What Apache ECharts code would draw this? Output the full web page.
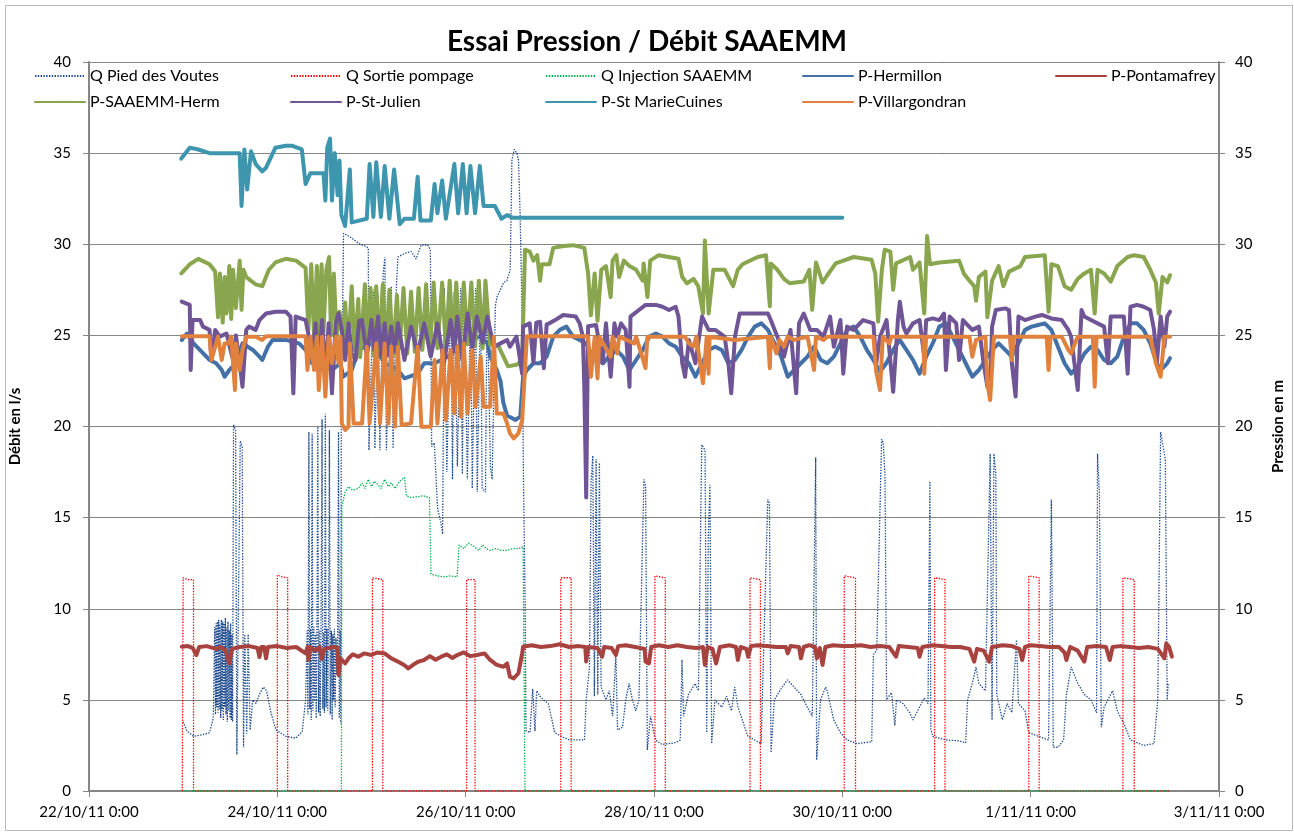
<!DOCTYPE html>
<html>
<head>
<meta charset="utf-8">
<title>Essai Pression / Débit SAAEMM</title>
<script src="https://cdn.jsdelivr.net/npm/echarts@6/dist/echarts.min.js"></script>
<style>
  html, body { margin: 0; padding: 0; background: #fff; }
  #chart { width: 1294px; height: 832px; }
</style>
</head>
<body>
<div id="chart"></div>
<script>
// x = days since 22/10/11 0:00, y = l/s (Q series) or m (P series)
const xTickLabels = ['22/10/11 0:00', '24/10/11 0:00', '26/10/11 0:00', '28/10/11 0:00',
  '30/10/11 0:00', '1/11/11 0:00', '3/11/11 0:00']

const qPiedDesVoutes = [
  [1.00,3.8],[1.04,3.3],[1.11,3.0],[1.21,3.1],[1.28,3.2],[1.32,4.0],[1.335,9.0],[1.343,4.2],[1.35,9.2],[1.357,4.6],
  [1.364,9.3],[1.371,4.3],[1.378,9.4],[1.385,4.5],[1.392,9.1],[1.399,4.0],[1.406,9.4],[1.413,4.4],[1.42,9.3],[1.427,3.9],
  [1.434,9.2],[1.441,4.6],[1.448,9.5],[1.455,4.2],[1.462,9.0],[1.469,3.8],[1.476,9.3],[1.483,4.4],[1.49,8.8],[1.497,4.0],
  [1.504,9.2],[1.511,3.9],[1.518,8.6],[1.525,3.8],[1.535,20.1],[1.557,19.8],[1.57,2.0],[1.585,9.4],[1.606,19.2],[1.627,18.9],
  [1.641,2.4],[1.654,8.6],[1.675,3.15],[1.69,8.6],[1.711,3.35],[1.739,5.0],[1.774,4.8],[1.809,5.3],[1.851,5.7],[1.886,5.5],
  [1.932,4.3],[1.985,3.35],[2.09,3.0],[2.195,2.9],[2.264,3.25],[2.30,5.0],[2.317,8.8],[2.325,4.2],[2.335,19.7],[2.345,4.5],
  [2.353,8.9],[2.36,3.9],[2.37,19.6],[2.378,4.4],[2.388,9.0],[2.396,5.0],[2.405,8.6],[2.413,4.0],[2.421,9.1],[2.43,20.0],
  [2.438,4.3],[2.447,8.8],[2.455,4.1],[2.464,9.0],[2.475,20.4],[2.483,4.5],[2.493,8.7],[2.50,4.3],[2.51,20.7],[2.518,4.6],
  [2.527,8.9],[2.535,4.4],[2.544,9.1],[2.553,19.8],[2.562,4.2],[2.574,8.8],[2.582,3.9],[2.59,8.6],[2.598,5.0],[2.606,8.9],
  [2.614,4.6],[2.622,8.4],[2.632,6.4],[2.641,8.7],[2.65,19.7],[2.658,4.0],[2.668,8.8],[2.673,3.7],[2.679,20.0],[2.703,30.6],
  [2.773,30.4],[2.826,30.2],[2.879,30.0],[2.931,29.9],[2.966,29.8],[2.973,18.7],[3.019,27.5],[3.036,18.8],[3.071,27.3],[3.089,18.7],
  [3.124,28.4],[3.142,29.3],[3.158,18.7],[3.211,27.7],[3.229,18.8],[3.264,27.7],[3.281,29.3],[3.352,29.5],[3.421,29.6],[3.474,29.2],
  [3.527,29.96],[3.597,29.96],[3.625,29.7],[3.639,18.9],[3.667,19.1],[3.702,15.5],[3.737,14.7],[3.755,14.1],[3.773,27.6],[3.80,17.5],
  [3.842,27.8],[3.86,17.1],[3.878,27.4],[3.912,17.8],[3.947,27.6],[3.965,17.4],[3.983,27.9],[4.018,17.1],[4.052,27.4],[4.07,16.6],
  [4.105,27.6],[4.123,16.4],[4.158,27.2],[4.175,16.6],[4.21,16.4],[4.228,27.4],[4.263,17.8],[4.281,17.1],[4.315,26.6],[4.333,27.1],
  [4.404,27.9],[4.438,28.0],[4.473,28.6],[4.491,34.6],[4.515,35.2],[4.544,35.0],[4.561,34.6],[4.578,31.7],[4.596,27.1],[4.614,17.1],
  [4.631,10.5],[4.641,3.3],[4.683,3.2],[4.712,5.6],[4.736,3.3],[4.754,5.5],[4.789,5.2],[4.824,5.0],[4.877,4.8],[4.912,4.0],
  [4.946,3.2],[5.035,2.95],[5.104,2.8],[5.262,2.8],[5.28,5.0],[5.315,6.8],[5.332,17.0],[5.35,18.4],[5.367,5.2],[5.385,18.2],
  [5.403,5.3],[5.42,18.0],[5.438,5.7],[5.49,5.0],[5.525,5.5],[5.561,4.1],[5.595,7.5],[5.613,3.35],[5.666,3.5],[5.70,5.0],
  [5.735,5.9],[5.771,5.0],[5.806,4.4],[5.84,5.0],[5.893,17.1],[5.911,16.7],[5.929,2.25],[5.963,4.1],[6.016,2.8],[6.086,2.55],
  [6.226,2.65],[6.279,2.8],[6.297,7.2],[6.314,4.1],[6.366,5.3],[6.437,5.9],[6.472,5.5],[6.507,19.0],[6.524,19.1],[6.542,18.7],
  [6.56,3.2],[6.577,14.1],[6.594,16.8],[6.612,2.6],[6.647,5.0],[6.718,4.6],[6.77,5.2],[6.823,4.4],[6.857,5.7],[6.892,4.6],
  [6.997,3.0],[7.068,2.8],[7.138,2.6],[7.208,16.0],[7.226,15.8],[7.243,2.1],[7.278,5.0],[7.348,5.6],[7.418,6.1],[7.488,5.7],
  [7.559,5.3],[7.628,4.6],[7.681,4.1],[7.717,18.3],[7.727,1.7],[7.769,5.0],[7.822,5.7],[7.839,5.5],[7.909,3.9],[7.979,3.2],
  [8.049,2.8],[8.154,2.6],[8.312,2.7],[8.33,7.5],[8.365,7.7],[8.417,19.3],[8.435,19.1],[8.453,17.3],[8.47,5.0],[8.522,5.4],
  [8.558,3.6],[8.575,5.0],[8.645,4.8],[8.716,4.3],[8.75,3.9],[8.82,4.6],[8.87,5.1],[8.91,4.8],[8.93,17.0],[8.94,3.4],
  [8.96,3.0],[9.10,2.8],[9.24,2.75],[9.31,2.65],[9.33,5.0],[9.38,5.9],[9.42,6.8],[9.45,5.9],[9.52,5.5],[9.57,18.5],
  [9.59,3.9],[9.61,18.5],[9.63,17.4],[9.64,5.3],[9.70,3.9],[9.75,4.8],[9.80,4.3],[9.85,8.3],[9.87,4.8],[9.94,4.4],
  [9.98,3.2],[10.08,3.0],[10.19,2.8],[10.22,16.0],[10.24,2.4],[10.29,2.4],[10.35,2.8],[10.38,5.3],[10.43,6.8],[10.50,5.9],
  [10.57,5.3],[10.64,5.0],[10.70,4.3],[10.71,18.5],[10.73,16.3],[10.75,3.5],[10.78,4.6],[10.87,5.5],[10.92,4.4],[10.99,3.7],
  [11.06,2.8],[11.20,2.5],[11.31,2.6],[11.35,5.0],[11.38,19.7],[11.42,18.5],[11.43,18.2],[11.45,5.0],[11.46,5.9]
]

const qSortiePompage = [
  [0.99,0],[1.0,11.7],[1.05,11.6],[1.11,11.6],[1.11,0],[2.0,0],[2.0,11.85],[2.05,11.75],[2.11,11.7],[2.11,0],
  [3.01,0],[3.01,11.7],[3.12,11.6],[3.12,0],[4.01,0],[4.01,11.6],[4.10,11.6],[4.10,0],[5.01,0],[5.01,11.7],
  [5.12,11.7],[5.12,0],[6.01,0],[6.01,11.8],[6.12,11.7],[6.12,0],[7.02,0],[7.02,11.7],[7.13,11.6],[7.13,0],
  [8.02,0],[8.02,11.8],[8.14,11.7],[8.14,0],[8.98,0],[8.98,11.7],[9.09,11.6],[9.09,0],[9.98,0],[9.98,11.8],
  [10.09,11.7],[10.09,0],[10.98,0],[10.98,11.7],[11.10,11.6],[11.10,0],[11.48,0]
]

const qInjectionSaaemm = [
  [1.0,0],[2.68,0],[2.685,15.6],[2.72,16.4],[2.756,16.7],[2.80,16.5],[2.86,16.6],[2.90,16.9],[2.93,16.6],[2.966,17.1],
  [3.0,16.7],[3.03,17.0],[3.07,16.8],[3.10,16.6],[3.14,17.1],[3.18,16.7],[3.21,16.9],[3.25,16.6],[3.30,17.0],[3.35,17.2],
  [3.37,16.2],[3.42,16.1],[3.49,16.15],[3.55,16.2],[3.615,16.1],[3.632,11.9],[3.70,11.8],[3.77,11.75],[3.84,11.8],[3.91,11.75],
  [3.93,13.5],[3.98,13.3],[4.03,13.6],[4.09,13.4],[4.14,13.2],[4.18,13.5],[4.22,13.3],[4.26,13.2],[4.32,13.3],[4.38,13.2],
  [4.44,13.2],[4.50,13.3],[4.56,13.3],[4.61,13.4],[4.63,0],[11.48,0]
]

const pHermillon = [
  [0.985,24.75],[1.04,25.1],[1.11,24.56],[1.28,23.65],[1.35,23.47],[1.41,23.1],[1.44,22.73],[1.49,23.1],[1.56,23.47],[1.63,24.56],
  [1.74,24.2],[1.81,23.83],[1.84,23.65],[1.90,24.38],[1.95,24.75],[2.09,24.75],[2.23,24.56],[2.30,24.2],[2.37,23.47],[2.47,23.47],
  [2.58,23.1],[2.67,23.47],[2.70,22.73],[2.79,23.1],[2.86,24.2],[3.0,24.56],[3.14,23.47],[3.28,23.1],[3.35,22.64],[3.49,22.9],
  [3.56,23.47],[3.67,23.47],[3.81,23.83],[3.91,24.38],[4.05,24.75],[4.16,24.93],[4.23,24.56],[4.26,23.83],[4.33,23.1],[4.37,22.5],
  [4.40,21.3],[4.44,20.6],[4.53,20.36],[4.58,20.54],[4.61,22.73],[4.65,23.1],[4.72,23.47],[4.79,23.47],[4.86,23.83],[4.93,24.93],
  [5.0,25.3],[5.07,25.48],[5.14,24.93],[5.21,24.75],[5.28,24.56],[5.35,23.83],[5.46,23.47],[5.52,23.83],[5.60,24.2],[5.67,23.83],
  [5.74,23.1],[5.81,23.65],[5.88,24.2],[5.95,24.93],[6.02,25.1],[6.09,24.93],[6.16,24.56],[6.23,24.38],[6.30,23.83],[6.37,23.47],
  [6.44,22.73],[6.51,23.47],[6.58,24.2],[6.65,24.38],[6.72,24.2],[6.79,23.47],[6.86,23.65],[6.93,24.2],[7.0,24.93],[7.07,25.48],
  [7.14,25.66],[7.21,25.3],[7.28,24.56],[7.35,23.83],[7.42,22.73],[7.49,23.1],[7.56,23.47],[7.63,23.83],[7.70,24.38],[7.77,23.65],
  [7.84,23.47],[7.91,23.83],[7.98,24.56],[8.05,25.3],[8.12,25.48],[8.19,24.93],[8.26,24.2],[8.33,23.65],[8.40,23.0],[8.47,23.5],
  [8.54,24.2],[8.61,24.75],[8.68,24.2],[8.75,23.65],[8.82,22.9],[8.89,23.83],[8.96,24.56],[9.03,25.48],[9.10,25.66],[9.17,24.93],
  [9.24,24.2],[9.31,23.47],[9.38,22.73],[9.45,23.1],[9.52,23.65],[9.59,24.2],[9.66,24.56],[9.73,24.2],[9.80,23.83],[9.87,24.56],
  [9.94,25.3],[10.01,25.48],[10.08,25.57],[10.15,25.66],[10.22,25.3],[10.29,24.38],[10.36,23.47],[10.43,22.9],[10.50,23.3],[10.57,24.0],
  [10.64,24.38],[10.71,24.2],[10.78,23.65],[10.85,23.47],[10.92,23.83],[10.99,24.93],[11.06,25.66],[11.13,25.66],[11.20,25.3],[11.27,24.56],
  [11.34,23.47],[11.38,23.1],[11.42,23.3],[11.45,23.47],[11.48,23.75]
]

const pPontamafrey = [
  [0.985,7.92],[1.05,7.95],[1.1,7.85],[1.14,7.46],[1.17,7.9],[1.25,7.95],[1.35,7.8],[1.4,7.9],[1.45,7.7],[1.49,7.0],
  [1.52,7.8],[1.6,7.9],[1.7,7.95],[1.79,7.85],[1.81,7.35],[1.83,7.9],[1.86,7.9],[1.88,7.28],[1.9,7.9],[2.0,7.95],
  [2.1,7.85],[2.2,7.9],[2.3,7.55],[2.32,7.9],[2.33,7.2],[2.35,7.9],[2.4,7.7],[2.45,7.9],[2.47,7.25],[2.5,7.8],
  [2.55,7.85],[2.6,7.9],[2.64,7.85],[2.65,6.37],[2.67,7.28],[2.72,7.0],[2.76,7.3],[2.8,7.5],[2.86,7.37],[2.92,7.55],
  [3.0,7.46],[3.06,7.6],[3.14,7.55],[3.21,7.28],[3.28,7.1],[3.35,6.9],[3.39,6.73],[3.45,6.95],[3.5,7.1],[3.56,7.19],
  [3.62,7.4],[3.68,7.2],[3.74,7.37],[3.8,7.5],[3.86,7.3],[3.91,7.46],[3.98,7.6],[4.05,7.4],[4.12,7.46],[4.2,7.55],
  [4.26,7.19],[4.33,6.92],[4.4,6.82],[4.44,7.0],[4.47,6.27],[4.51,6.18],[4.56,6.46],[4.60,7.55],[4.61,7.92],[4.7,8.0],
  [4.8,7.9],[4.9,7.95],[5.0,8.05],[5.1,7.9],[5.2,7.95],[5.27,7.9],[5.28,7.1],[5.3,7.9],[5.4,7.85],[5.45,7.37],
  [5.47,7.9],[5.55,7.85],[5.595,7.46],[5.62,7.95],[5.7,8.0],[5.8,7.9],[5.9,7.8],[5.91,7.1],[5.946,7.0],[5.97,7.9],
  [6.05,8.0],[6.15,7.9],[6.25,8.0],[6.35,7.9],[6.45,7.85],[6.52,7.9],[6.54,6.92],[6.57,7.9],[6.62,7.8],[6.66,7.0],
  [6.7,7.9],[6.8,8.0],[6.87,7.9],[6.89,7.19],[6.92,7.9],[6.98,7.8],[7.0,7.37],[7.03,7.95],[7.1,8.0],[7.2,7.95],
  [7.3,7.9],[7.4,7.9],[7.42,7.55],[7.45,7.95],[7.54,7.9],[7.56,7.28],[7.59,7.9],[7.65,8.0],[7.71,7.9],[7.73,7.28],
  [7.76,7.85],[7.79,6.92],[7.82,7.9],[7.9,8.0],[8.0,7.95],[8.1,7.95],[8.2,8.0],[8.3,7.9],[8.4,7.95],[8.5,7.9],
  [8.57,7.37],[8.6,7.95],[8.7,7.9],[8.8,7.85],[8.82,7.37],[8.85,7.9],[8.95,8.0],[9.05,7.95],[9.15,7.9],[9.25,7.9],
  [9.35,7.8],[9.40,7.1],[9.43,7.8],[9.5,7.7],[9.56,7.1],[9.59,7.9],[9.7,8.0],[9.8,7.95],[9.88,7.8],[9.91,7.19],
  [9.94,7.9],[10.0,8.0],[10.1,7.95],[10.2,7.9],[10.3,7.9],[10.36,7.6],[10.38,7.19],[10.42,7.9],[10.5,7.7],[10.57,7.1],
  [10.6,7.9],[10.7,7.95],[10.8,7.9],[10.84,7.19],[10.87,7.9],[10.95,7.95],[11.05,7.9],[11.15,7.85],[11.25,7.9],[11.35,7.8],
  [11.42,7.28],[11.44,8.1],[11.47,7.9],[11.5,7.37]
]

const pSaaemmHerm = [
  [0.98,28.4],[1.07,28.9],[1.16,29.2],[1.28,28.9],[1.34,28.5],[1.37,26.0],[1.39,28.4],[1.42,25.7],[1.44,28.2],[1.46,26.2],
  [1.49,28.8],[1.51,25.9],[1.53,28.6],[1.56,26.5],[1.6,29.1],[1.62,26.4],[1.64,28.6],[1.67,28.2],[1.77,27.8],[1.84,27.7],
  [1.91,28.6],[1.98,29.0],[2.09,29.2],[2.2,29.1],[2.3,28.7],[2.33,25.3],[2.36,28.9],[2.39,24.9],[2.42,28.8],[2.44,25.1],
  [2.47,28.9],[2.49,25.2],[2.52,28.6],[2.55,29.3],[2.57,25.0],[2.6,28.4],[2.63,24.9],[2.66,26.3],[2.7,24.6],[2.72,26.8],
  [2.75,24.0],[2.79,27.7],[2.82,24.2],[2.86,27.0],[2.88,23.8],[2.93,27.8],[2.96,24.4],[2.99,27.6],[3.02,23.9],[3.05,27.7],
  [3.08,24.2],[3.12,27.8],[3.15,24.0],[3.19,27.5],[3.23,23.9],[3.27,27.2],[3.3,24.3],[3.34,27.6],[3.38,24.0],[3.42,27.4],
  [3.46,24.1],[3.5,27.6],[3.54,24.2],[3.58,27.8],[3.62,24.0],[3.66,27.9],[3.7,24.3],[3.75,27.9],[3.79,24.2],[3.83,28.0],
  [3.87,24.3],[3.9,27.9],[3.94,24.4],[3.98,27.9],[4.02,24.5],[4.06,27.9],[4.1,24.4],[4.14,28.0],[4.18,24.3],[4.21,28.0],
  [4.26,24.5],[4.35,24.4],[4.45,23.3],[4.55,23.4],[4.6,23.7],[4.63,29.7],[4.68,29.6],[4.72,29.1],[4.76,29.4],[4.79,28.0],
  [4.81,28.9],[4.89,28.9],[4.93,29.8],[5.04,29.9],[5.14,29.95],[5.26,29.8],[5.30,28.4],[5.33,26.1],[5.37,28.4],[5.40,25.8],
  [5.44,28.6],[5.49,28.8],[5.54,27.1],[5.56,29.1],[5.60,29.4],[5.63,28.2],[5.68,29.1],[5.74,28.8],[5.81,28.6],[5.88,28.0],
  [5.89,28.95],[5.93,27.1],[5.96,29.1],[6.05,29.4],[6.26,29.2],[6.30,28.2],[6.35,27.85],[6.42,28.1],[6.47,27.7],[6.52,26.2],
  [6.54,30.2],[6.58,26.2],[6.63,28.6],[6.75,28.6],[6.84,27.7],[6.89,28.6],[6.94,28.9],[7.10,29.3],[7.19,29.4],[7.23,26.6],
  [7.24,28.95],[7.31,28.6],[7.38,28.1],[7.44,27.86],[7.59,27.95],[7.65,28.6],[7.68,26.4],[7.72,29.0],[7.79,27.9],[7.84,28.3],
  [7.93,28.95],[8.12,29.3],[8.31,29.15],[8.35,28.4],[8.38,25.75],[8.42,28.6],[8.45,29.7],[8.51,29.6],[8.54,27.5],[8.57,28.95],
  [8.72,29.3],[8.75,28.6],[8.82,29.0],[8.87,26.2],[8.90,30.45],[8.93,28.9],[9.03,29.0],[9.24,29.1],[9.29,28.4],[9.35,28.0],
  [9.40,27.7],[9.42,26.9],[9.45,28.2],[9.52,28.5],[9.54,26.0],[9.59,28.0],[9.66,28.8],[9.71,27.7],[9.77,28.5],[9.89,28.8],
  [9.94,29.3],[10.15,29.4],[10.19,26.3],[10.22,28.9],[10.29,28.8],[10.36,27.7],[10.43,27.5],[10.50,28.1],[10.57,28.4],[10.64,28.6],
  [10.68,26.2],[10.71,28.6],[10.78,28.4],[10.85,27.95],[10.92,28.8],[11.03,29.3],[11.10,29.4],[11.20,29.3],[11.27,28.6],[11.33,27.9],
  [11.36,26.2],[11.40,28.2],[11.45,27.9],[11.48,28.3]
]

const pStJulien = [
  [0.985,26.85],[1.07,26.67],[1.08,23.1],[1.10,25.84],[1.18,25.84],[1.21,25.48],[1.28,25.3],[1.30,23.65],[1.34,25.3],[1.39,24.93],
  [1.46,25.1],[1.53,23.65],[1.56,25.0],[1.60,23.47],[1.63,22.18],[1.67,25.3],[1.70,25.48],[1.77,25.3],[1.81,25.84],[1.88,26.2],
  [1.98,26.3],[2.09,26.3],[2.14,26.03],[2.17,21.82],[2.195,26.03],[2.30,25.84],[2.335,24.93],[2.37,23.65],[2.405,25.66],[2.44,23.1],
  [2.475,25.84],[2.51,22.73],[2.545,25.66],[2.58,21.82],[2.62,25.66],[2.65,26.2],[2.685,25.3],[2.72,23.65],[2.756,25.66],[2.79,24.0],
  [2.83,23.65],[2.87,25.8],[2.90,25.84],[2.95,23.83],[3.0,25.84],[3.03,24.2],[3.07,26.03],[3.10,24.0],[3.14,25.66],[3.17,23.9],
  [3.21,25.48],[3.25,24.1],[3.28,25.66],[3.35,23.65],[3.42,25.48],[3.49,24.0],[3.56,25.66],[3.63,23.83],[3.70,25.66],[3.77,23.47],
  [3.84,25.84],[3.88,24.1],[3.91,26.03],[3.965,23.65],[4.02,26.2],[4.07,24.3],[4.12,26.03],[4.18,24.6],[4.23,26.03],[4.26,25.3],
  [4.30,24.38],[4.37,24.56],[4.44,24.75],[4.47,24.38],[4.54,24.93],[4.60,22.9],[4.61,25.48],[4.68,25.66],[4.72,23.5],[4.75,25.7],
  [4.79,25.75],[4.83,23.2],[4.86,25.6],[4.89,25.66],[4.95,25.84],[5.035,26.12],[5.17,26.03],[5.21,25.66],[5.245,24.93],[5.26,22.18],
  [5.28,16.1],[5.30,25.5],[5.385,25.57],[5.455,23.47],[5.49,25.66],[5.54,22.73],[5.58,25.66],[5.61,24.93],[5.65,25.66],[5.70,25.3],
  [5.74,22.18],[5.75,26.03],[5.84,26.39],[5.91,26.67],[6.02,26.67],[6.09,26.57],[6.16,26.39],[6.23,26.57],[6.26,26.03],[6.30,23.47],
  [6.33,22.73],[6.37,24.75],[6.44,23.47],[6.51,26.03],[6.58,25.3],[6.65,25.3],[6.75,24.93],[6.79,23.47],[6.82,21.82],[6.86,24.93],
  [6.91,26.2],[7.0,26.2],[7.10,26.2],[7.21,26.2],[7.24,25.84],[7.31,24.93],[7.38,23.83],[7.45,25.3],[7.51,21.82],[7.54,25.66],
  [7.59,26.2],[7.66,25.3],[7.73,25.3],[7.80,24.93],[7.87,26.03],[7.91,24.38],[7.98,25.84],[8.01,22.9],[8.05,25.48],[8.12,25.3],
  [8.22,25.84],[8.33,25.66],[8.36,23.47],[8.40,24.93],[8.47,25.84],[8.54,21.9],[8.59,25.84],[8.61,26.85],[8.65,25.48],[8.68,25.1],
  [8.75,25.66],[8.82,25.84],[8.87,23.83],[8.89,25.84],[8.96,25.93],[9.03,25.84],[9.08,26.2],[9.10,23.1],[9.14,26.03],[9.21,25.66],
  [9.24,23.65],[9.28,25.84],[9.38,25.3],[9.45,25.48],[9.50,23.47],[9.54,22.18],[9.57,22.0],[9.59,25.48],[9.63,26.39],[9.73,26.48],
  [9.77,26.39],[9.80,23.47],[9.84,21.64],[9.87,26.03],[9.94,25.84],[10.05,26.03],[10.12,26.12],[10.22,25.93],[10.33,25.84],[10.40,25.3],
  [10.43,24.93],[10.50,22.0],[10.54,26.39],[10.57,26.03],[10.64,25.84],[10.78,25.48],[10.82,23.47],[10.85,26.03],[10.99,26.03],[11.03,22.9],
  [11.06,26.57],[11.13,26.67],[11.20,26.57],[11.27,26.39],[11.31,25.3],[11.34,23.47],[11.38,26.03],[11.42,24.38],[11.45,26.03],[11.48,26.3]
]

const pStMarieCuines = [
  [0.98,34.7],[1.07,35.3],[1.16,35.2],[1.28,35.0],[1.6,35.0],[1.62,32.1],[1.65,35.2],[1.68,33.0],[1.72,35.1],[1.77,34.4],
  [1.84,34.0],[1.88,34.2],[1.98,35.3],[2.09,35.4],[2.16,35.4],[2.26,35.2],[2.3,33.3],[2.35,33.9],[2.49,33.9],[2.51,32.4],
  [2.53,35.3],[2.56,35.8],[2.58,32.4],[2.61,35.0],[2.64,32.7],[2.66,34.6],[2.68,31.6],[2.72,31.0],[2.77,34.1],[2.79,31.2],
  [2.95,31.4],[2.98,34.4],[3.02,31.5],[3.05,34.5],[3.1,31.5],[3.14,34.3],[3.19,31.4],[3.24,34.1],[3.3,31.1],[3.35,31.4],
  [3.45,31.4],[3.49,33.7],[3.52,31.3],[3.63,31.3],[3.67,33.3],[3.7,31.7],[3.75,33.5],[3.79,31.4],[3.88,34.4],[3.92,31.7],
  [3.97,34.4],[4.01,31.7],[4.05,34.3],[4.1,31.7],[4.15,34.3],[4.19,32.1],[4.31,32.1],[4.35,31.7],[4.38,31.4],[4.44,31.6],
  [4.5,31.45],[8.0,31.45]
]

const pVillargondran = [
  [0.985,24.95],[1.28,24.95],[1.30,23.65],[1.34,24.38],[1.37,24.93],[1.41,23.65],[1.44,24.56],[1.48,24.56],[1.51,24.93],[1.55,22.0],
  [1.56,24.56],[1.60,23.1],[1.63,24.2],[1.67,24.93],[1.77,24.93],[1.84,24.75],[1.88,24.95],[2.30,24.95],[2.32,23.1],[2.35,24.93],
  [2.39,23.1],[2.42,24.93],[2.44,22.0],[2.475,24.93],[2.51,21.64],[2.545,24.93],[2.58,23.47],[2.62,24.93],[2.65,23.47],[2.67,24.93],
  [2.685,20.17],[2.72,19.81],[2.756,19.99],[2.77,24.56],[2.81,20.17],[2.90,20.17],[2.95,24.38],[2.98,20.17],[3.05,24.56],[3.09,20.17],
  [3.14,24.56],[3.18,20.17],[3.21,24.38],[3.25,19.99],[3.28,24.38],[3.32,20.08],[3.42,20.17],[3.49,24.38],[3.53,19.99],[3.63,19.99],
  [3.67,23.65],[3.70,20.17],[3.755,24.2],[3.79,20.36],[3.84,24.2],[3.88,20.72],[3.91,24.38],[3.95,20.54],[3.98,24.56],[4.02,20.72],
  [4.07,24.2],[4.105,21.09],[4.16,23.83],[4.19,21.09],[4.26,21.09],[4.30,24.93],[4.33,20.72],[4.40,20.72],[4.44,20.17],[4.47,19.63],
  [4.51,19.35],[4.56,19.63],[4.60,20.36],[4.65,24.95],[5.30,24.95],[5.33,22.73],[5.37,24.93],[5.40,22.64],[5.42,24.93],[5.54,23.83],
  [5.56,24.93],[5.61,24.01],[5.63,24.93],[5.79,24.56],[5.81,24.93],[5.91,23.2],[5.93,24.93],[6.33,24.93],[6.37,24.56],[6.42,24.38],
  [6.45,24.93],[6.52,22.37],[6.56,24.93],[6.58,22.9],[6.59,24.93],[6.86,24.75],[7.21,24.93],[7.23,23.2],[7.24,24.93],[7.30,24.01],
  [7.33,24.75],[7.38,24.38],[7.42,24.93],[7.49,24.75],[7.63,24.93],[7.70,23.1],[7.72,24.93],[7.80,24.75],[7.84,24.93],[8.33,24.93],
  [8.36,23.0],[8.40,22.0],[8.43,24.93],[8.50,24.56],[8.52,24.93],[8.86,24.93],[8.87,22.9],[8.89,24.93],[9.35,24.93],[9.38,23.83],
  [9.42,24.75],[9.52,24.93],[9.54,22.37],[9.57,21.45],[9.61,24.93],[9.78,24.93],[9.80,23.65],[9.82,24.93],[10.17,24.93],[10.19,23.1],
  [10.21,24.93],[10.33,24.93],[10.40,24.2],[10.43,24.01],[10.47,24.56],[10.50,24.93],[10.66,24.93],[10.68,22.18],[10.70,24.93],[11.27,24.93],
  [11.33,23.47],[11.38,22.73],[11.42,24.93],[11.48,24.93]
]

const FONT = 'Lato, "Open Sans", sans-serif'
const AXIS_GREY = '#868686'

function qLine(name, data, color) {
  return {
    name, type: 'line', data, yAxisIndex: 0, symbol: 'none', showSymbol: false,
    lineStyle: { color, width: 1.3, type: [1.4, 1.4] },
    itemStyle: { color }, emphasis: { disabled: true }
  }
}

function pLine(name, data, color) {
  return {
    name, type: 'line', data, yAxisIndex: 1, symbol: 'none', showSymbol: false,
    lineStyle: { color, width: 4, join: 'round', cap: 'round' },
    itemStyle: { color }, emphasis: { disabled: true }
  }
}

// legend grid: 5 columns, 2 rows; the symbol is hidden so only the line sample shows
function legendAt(name, left, top) {
  return {
    data: [name], left, top, itemWidth: 50, itemHeight: 12, padding: 0,
    itemStyle: { opacity: 0 },
    textStyle: { fontFamily: FONT, fontSize: 16, color: '#000' }
  }
}

const chart = echarts.init(document.getElementById('chart'), null, { renderer: 'canvas' })

chart.setOption({
  animation: false,
  backgroundColor: '#fff',
  title: {
    text: 'Essai Pression / Débit SAAEMM', left: 'center', top: 23,
    textStyle: { fontFamily: FONT, fontSize: 28, fontWeight: 'bold', color: '#000' }
  },
  graphic: [{
    type: 'rect', left: 3, top: 3, silent: true,
    shape: { width: 1287, height: 825 },
    style: { fill: 'none', stroke: '#B8B8B8', lineWidth: 1 }
  }],
  legend: [
    legendAt('Q Pied des Voutes', 34, 68),
    legendAt('Q Sortie pompage', 290, 68),
    legendAt('Q Injection SAAEMM', 545, 68),
    legendAt('P-Hermillon', 802, 68),
    legendAt('P-Pontamafrey', 1055, 68),
    legendAt('P-SAAEMM-Herm', 34, 94),
    legendAt('P-St-Julien', 290, 94),
    legendAt('P-St MarieCuines', 545, 94),
    legendAt('P-Villargondran', 802, 94)
  ],
  grid: { left: 88, right: 65, top: 62, bottom: 41 },
  xAxis: {
    type: 'value', min: 0, max: 12, interval: 2,
    axisLine: { lineStyle: { color: AXIS_GREY, width: 2 } },
    axisTick: { show: true, length: 6, lineStyle: { color: AXIS_GREY } },
    axisLabel: {
      margin: 14, fontFamily: FONT, fontSize: 15, color: '#000',
      formatter: v => xTickLabels[Math.round(v / 2)]
    },
    splitLine: { show: false }
  },
  yAxis: [{
    type: 'value', min: 0, max: 40, interval: 5, position: 'left',
    name: 'Débit en l/s', nameLocation: 'middle', nameGap: 66, nameRotate: 90,
    nameTextStyle: { fontFamily: FONT, fontSize: 15, fontWeight: 'bold', color: '#000' },
    axisLine: { show: true, lineStyle: { color: AXIS_GREY, width: 2 } },
    axisTick: { show: true, length: 6, lineStyle: { color: AXIS_GREY } },
    axisLabel: { margin: 18, fontFamily: FONT, fontSize: 15, color: '#000' },
    splitLine: { show: true, lineStyle: { color: AXIS_GREY, width: 1 } }
  }, {
    type: 'value', min: 0, max: 40, interval: 5, position: 'right',
    name: 'Pression en m', nameLocation: 'middle', nameGap: 52, nameRotate: 90,
    nameTextStyle: { fontFamily: FONT, fontSize: 15, fontWeight: 'bold', color: '#000' },
    axisLine: { show: true, lineStyle: { color: AXIS_GREY, width: 2 } },
    axisTick: { show: true, length: 6, lineStyle: { color: AXIS_GREY } },
    axisLabel: { margin: 16, fontFamily: FONT, fontSize: 15, color: '#000' },
    splitLine: { show: false }
  }],
  series: [
    qLine('Q Pied des Voutes', qPiedDesVoutes, '#1F4B8F'),
    qLine('Q Sortie pompage', qSortiePompage, '#FF0000'),
    qLine('Q Injection SAAEMM', qInjectionSaaemm, '#00B050'),
    pLine('P-Hermillon', pHermillon, '#4470A8'),
    pLine('P-Pontamafrey', pPontamafrey, '#A8423F'),
    pLine('P-SAAEMM-Herm', pSaaemmHerm, '#89A54E'),
    pLine('P-St-Julien', pStJulien, '#6F5596'),
    pLine('P-St MarieCuines', pStMarieCuines, '#3D96AE'),
    pLine('P-Villargondran', pVillargondran, '#E0823D')
  ]
})

window.addEventListener('resize', () => chart.resize())
</script>
</body>
</html>
